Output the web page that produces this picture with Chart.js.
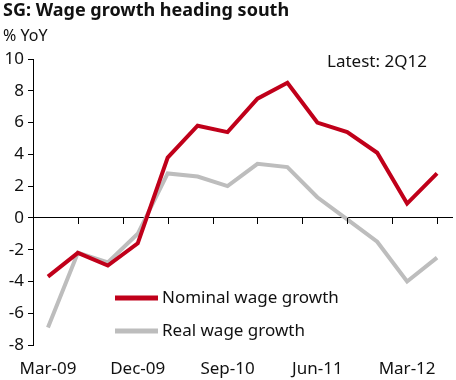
<!DOCTYPE html>
<html>
<head>
<meta charset="utf-8">
<script src="https://cdn.jsdelivr.net/npm/chart.js@4"></script>
<style>
  body { margin: 0; background: #fff; font-family: "Noto Sans", sans-serif; color: #111; }
  #wrap { position: relative; width: 456px; height: 380px; }
  #title { position: absolute; left: 3px; top: -3px; font-size: 18px; font-weight: bold; }
  #unit { position: absolute; left: 3px; top: 24px; font-size: 16px; }
  #latest { position: absolute; left: 327px; top: 49px; font-size: 17px; }
  canvas { position: absolute; left: 0; top: 0; }
</style>
</head>
<body>
<div id="wrap">
  <canvas id="wageChart" width="456" height="380"></canvas>
  <div id="title">SG: Wage growth heading south</div>
  <div id="unit">% YoY</div>
  <div id="latest">Latest: 2Q12</div>
</div>
<script>
// quarters, Mar-09 .. Jun-12
const quarters = ["Mar-09", "Jun-09", "Sep-09", "Dec-09", "Mar-10", "Jun-10", "Sep-10",
                  "Dec-10", "Mar-11", "Jun-11", "Sep-11", "Dec-11", "Mar-12", "Jun-12"];
const nominalWage = [-3.7, -2.2, -3.0, -1.6, 3.8, 5.8, 5.4, 7.5, 8.5, 6.0, 5.4, 4.1, 0.9, 2.8];
const realWage = [-6.9, -2.2, -2.8, -1.0, 2.8, 2.6, 2.0, 3.4, 3.2, 1.3, -0.1, -1.5, -4.0, -2.5];
const xTickLabels = ["Mar-09", "Dec-09", "Sep-10", "Jun-11", "Mar-12"];
const xTickMarks = [1, 2.5, 4, 5.5, 7, 8.5, 10, 11.5, 13]; // in quarter units
const yTicks = [-8, -6, -4, -2, 0, 2, 4, 6, 8, 10];

const RED = "#c0001a";
const GREY = "#bdbdbd";
const FONT = "'Noto Sans', sans-serif";

// tick marks hanging below the zero line
const zeroTicks = {
  id: "zeroTicks",
  afterDatasetsDraw(chart) {
    const ctx = chart.ctx;
    const xs = chart.scales.x;
    const y0 = Math.round(chart.scales.y.getPixelForValue(0));
    ctx.save();
    ctx.fillStyle = "#000";
    xTickMarks.forEach(function (v) {
      const px = Math.round(xs.getPixelForValue(v));
      ctx.fillRect(px, y0, 1, 6);
    });
    ctx.restore();
  }
};

// legend drawn inside the plot area
const innerLegend = {
  id: "innerLegend",
  afterDatasetsDraw(chart) {
    const ctx = chart.ctx;
    const area = chart.chartArea;
    const x0 = area.left + 82;
    let y = area.top + 239;
    ctx.save();
    ctx.font = "17px " + FONT;
    ctx.textBaseline = "middle";
    chart.data.datasets.forEach(function (ds) {
      ctx.strokeStyle = ds.borderColor;
      ctx.lineWidth = 5;
      ctx.beginPath();
      ctx.moveTo(x0, y);
      ctx.lineTo(x0 + 43, y);
      ctx.stroke();
      ctx.fillStyle = "#111";
      ctx.fillText(ds.label, x0 + 47, y);
      y += 33;
    });
    ctx.restore();
  }
};

const canvas = document.getElementById("wageChart");

new Chart(canvas, {
  type: "line",
  data: {
    datasets: [
      {
        label: "Nominal wage growth",
        data: nominalWage.map(function (v, i) { return { x: i, y: v }; }),
        borderColor: RED,
        borderWidth: 4
      },
      {
        label: "Real wage growth",
        data: realWage.map(function (v, i) { return { x: i, y: v }; }),
        borderColor: GREY,
        borderWidth: 4
      }
    ]
  },
  options: {
    responsive: false,
    animation: false,
    layout: { padding: { top: 59, right: 4, left: 0, bottom: 0 } },
    elements: { point: { radius: 0 }, line: { tension: 0 } },
    plugins: {
      legend: { display: false },
      tooltip: { enabled: false }
    },
    scales: {
      // axis line through zero
      x: {
        type: "linear",
        position: { y: 0 },
        min: -0.5,
        max: 13.5,
        ticks: { display: false },
        grid: { drawOnChartArea: false, drawTicks: false },
        border: { color: "#000", width: 1 }
      },
      // labels along the bottom
      xb: {
        type: "linear",
        position: "bottom",
        min: -0.5,
        max: 13.5,
        afterBuildTicks: function (s) {
          s.ticks = xTickLabels.map(function (lab) { return { value: quarters.indexOf(lab) }; });
        },
        afterFit: function (s) { s.height = 35; },
        ticks: {
          padding: 6,
          color: "#111",
          font: { family: FONT, size: 17 },
          maxRotation: 0,
          callback: function (v) { return quarters[v]; }
        },
        grid: { display: false },
        border: { display: false }
      },
      y: {
        min: -8,
        max: 10,
        afterBuildTicks: function (s) {
          s.ticks = yTicks.map(function (v) { return { value: v }; });
        },
        afterFit: function (s) { s.width = 33; },
        ticks: {
          padding: 4,
          color: "#111",
          font: { family: FONT, size: 17 }
        },
        grid: { drawOnChartArea: false, tickLength: 5, color: "#000" },
        border: { color: "#000", width: 1 }
      }
    }
  },
  plugins: [zeroTicks, innerLegend]
});
</script>
</body>
</html>
